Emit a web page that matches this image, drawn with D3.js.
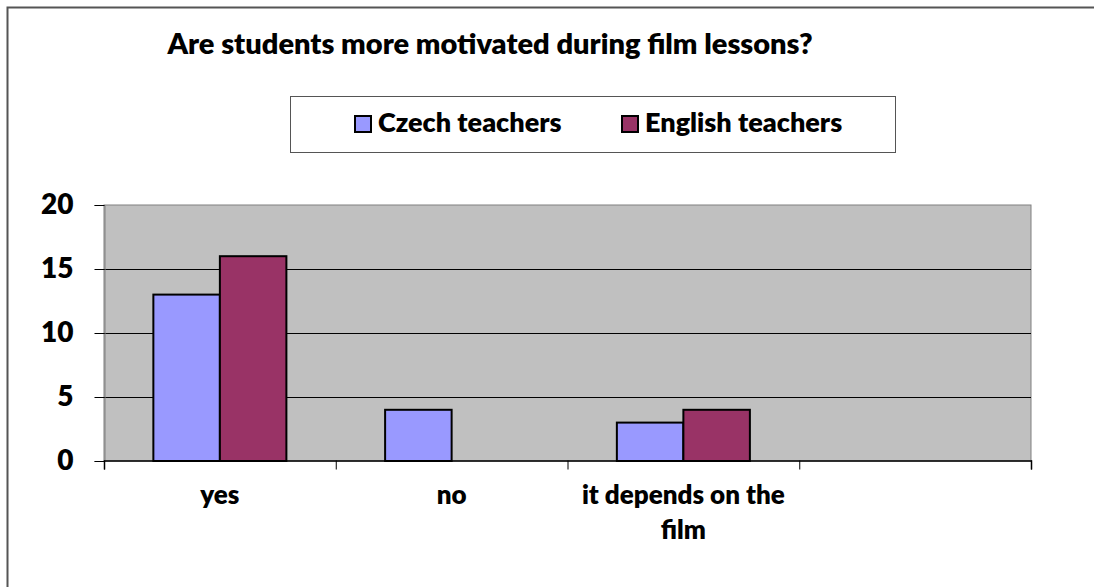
<!DOCTYPE html>
<html>
<head>
<meta charset="utf-8">
<script src="https://cdn.jsdelivr.net/npm/d3@7"></script>
<style>
  body { margin: 0; background: #fff; }
  svg { display: block; font-family: Lato, "Open Sans", sans-serif; font-weight: 800; }
</style>
</head>
<body>
<svg width="1094" height="587"></svg>
<script>
// data
const categories = ["yes", "no", "it depends on the film", ""];
const seriesNames = ["Czech teachers", "English teachers"];
const czech = [13, 4, 3, null];
const english = [16, null, 4, null];
const yTicks = [0, 5, 10, 15, 20];
const colors = ["#9999FF", "#993366"];

const svg = d3.select("svg");

// outer frame (only left/top visible in the picture)
svg.append("rect")
    .attr("x", 7.5).attr("y", 7.5)
    .attr("width", 1200).attr("height", 700)
    .attr("fill", "#fff")
    .attr("stroke", "#555").attr("stroke-width", 2);

const plotLeft = 104, plotRight = 1031, plotTop = 205, plotBottom = 461;

const x = d3.scaleBand()
    .domain(categories.map((d, i) => i))
    .range([plotLeft, plotRight]);

const xInner = d3.scaleBand()
    .domain(seriesNames)
    .range([0, x.bandwidth() * 0.574]);

const y = d3.scaleLinear()
    .domain([0, 20])
    .range([plotBottom, plotTop]);

// plot area
svg.append("rect")
    .attr("x", plotLeft).attr("y", plotTop)
    .attr("width", plotRight - plotLeft).attr("height", plotBottom - plotTop)
    .attr("fill", "#C0C0C0")
    .attr("stroke", "#808080").attr("stroke-width", 1);

// gridlines
svg.append("g")
    .selectAll("line")
    .data(yTicks.filter(d => d > 0 && d < 20))
    .join("line")
    .attr("x1", plotLeft).attr("x2", plotRight)
    .attr("y1", d => y(d) + 0.5).attr("y2", d => y(d) + 0.5)
    .attr("stroke", "#000").attr("stroke-width", 1);

// y axis
const yAxis = d3.axisLeft(y).tickValues(yTicks).tickSize(10).tickPadding(21);
const gy = svg.append("g")
    .attr("transform", "translate(" + (plotLeft + 0.5) + ",0)")
    .call(yAxis);
gy.select(".domain").attr("stroke", "#808080");
gy.selectAll(".tick line").attr("stroke", "#000");
gy.selectAll("text")
    .attr("font-size", 28).attr("font-weight", 800)
    .attr("font-family", "Lato, sans-serif")
    .attr("fill", "#000");

// bars
const series = [czech, english];
series.forEach((vals, s) => {
    svg.append("g")
        .selectAll("rect")
        .data(vals.map((v, i) => ({ i, v })).filter(d => d.v != null))
        .join("rect")
        .attr("x", d => x(d.i) + (x.bandwidth() - xInner.range()[1]) / 2 + xInner(seriesNames[s]))
        .attr("y", d => y(d.v))
        .attr("width", xInner.bandwidth())
        .attr("height", d => y(0) - y(d.v))
        .attr("fill", colors[s])
        .attr("stroke", "#000")
        .attr("stroke-width", 2);
});

// x axis (ticks at category boundaries)
const boundaries = categories.map((d, i) => x(i)).concat([plotRight]);
const xb = d3.scaleLinear().domain([plotLeft, plotRight]).range([plotLeft, plotRight]);
const gx = svg.append("g")
    .attr("transform", "translate(0," + (plotBottom - 0.5) + ")")
    .call(d3.axisBottom(xb).tickValues(boundaries).tickSize(9).tickFormat(""));
gx.select(".domain").attr("stroke", "#000").attr("stroke-width", 1.5);
gx.selectAll(".tick line").attr("stroke", "#000");

// category labels
const wrapLabel = { "it depends on the film": ["it depends on the", "film"] };
categories.forEach((c, i) => {
    const lines = wrapLabel[c] || [c];
    const t = svg.append("text")
        .attr("x", x(i) + x.bandwidth() / 2)
        .attr("y", 504)
        .attr("text-anchor", "middle")
        .attr("font-size", 26);
    lines.forEach((l, k) => {
        t.append("tspan")
            .attr("x", x(i) + x.bandwidth() / 2)
            .attr("dy", k === 0 ? 0 : 35)
            .text(l);
    });
});

// title
svg.append("text")
    .attr("x", 490).attr("y", 54)
    .attr("text-anchor", "middle")
    .attr("font-size", 29)
    .text("Are students more motivated during film lessons?");

// legend
const legend = svg.append("g");
legend.append("rect")
    .attr("x", 290.5).attr("y", 96.5)
    .attr("width", 605).attr("height", 56)
    .attr("fill", "#fff")
    .attr("stroke", "#555").attr("stroke-width", 1);
const legendX = [355, 622];
seriesNames.forEach((n, s) => {
    legend.append("rect")
        .attr("x", legendX[s]).attr("y", 116)
        .attr("width", 16).attr("height", 16)
        .attr("fill", colors[s])
        .attr("stroke", "#000").attr("stroke-width", 2);
    legend.append("text")
        .attr("x", legendX[s] + 23).attr("y", 132)
        .attr("font-size", 27)
        .text(n);
});
</script>
</body>
</html>
